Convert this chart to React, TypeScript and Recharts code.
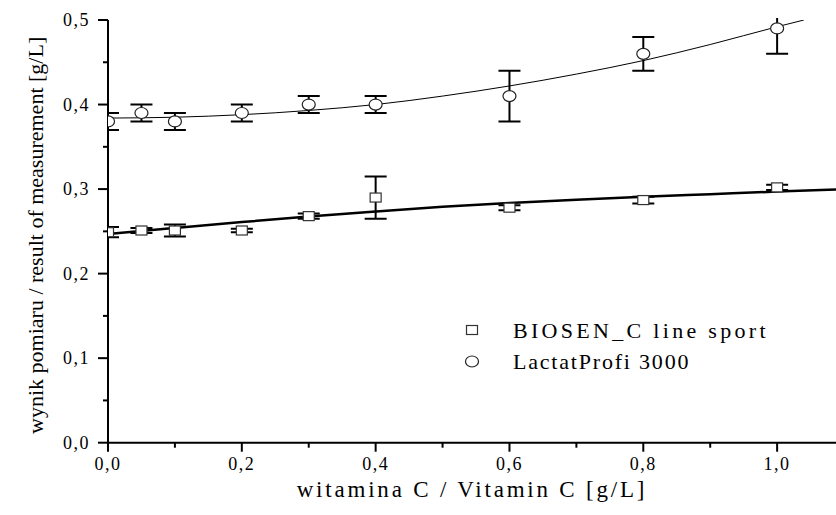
import {
  ComposedChart,
  Scatter,
  Line,
  XAxis,
  YAxis,
  ErrorBar,
  Legend,
} from "recharts";

const doses = [0, 0.05, 0.1, 0.2, 0.3, 0.4, 0.6, 0.8, 1.0];

const biosenValues = [0.249, 0.251, 0.251, 0.251, 0.268, 0.29, 0.278, 0.287, 0.302];
const biosenErrors = [0.006, 0.003, 0.007, 0.002, 0.003, 0.025, 0.003, 0.004, 0.003];

const lactatValues = [0.38, 0.39, 0.38, 0.39, 0.4, 0.4, 0.41, 0.46, 0.49];
const lactatErrors = [0.01, 0.01, 0.01, 0.01, 0.01, 0.01, 0.03, 0.02, 0.03];

// fitted curves
const biosenFitX = [0, 0.1, 0.2, 0.3, 0.4, 0.5, 0.6, 0.7, 0.8, 0.9, 1.0, 1.088];
const biosenFitY = [0.247, 0.254, 0.261, 0.2675, 0.2735, 0.279, 0.2835, 0.2875, 0.291, 0.294, 0.297, 0.2995];

const lactatFitX = [0, 0.1, 0.2, 0.3, 0.4, 0.5, 0.6, 0.7, 0.8, 0.9, 1.0, 1.04];
const lactatFitY = [0.384, 0.385, 0.388, 0.393, 0.4, 0.41, 0.422, 0.436, 0.452, 0.471, 0.492, 0.5];

const xTicks = [0, 0.1, 0.2, 0.3, 0.4, 0.5, 0.6, 0.7, 0.8, 0.9, 1.0];
const yTicks = [0, 0.05, 0.1, 0.15, 0.2, 0.25, 0.3, 0.35, 0.4, 0.45, 0.5];

const legendNames = ["BIOSEN_C line sport", "LactatProfi 3000"];

const FONT = '"Liberation Serif", "Times New Roman", serif';

// layout constants (chart box minus margins and axis sizes)
const PLOT_LEFT = 108;
const PLOT_TOP = 18;

const biosenPoints = doses.map((x, i) => ({ x, y: biosenValues[i], err: biosenErrors[i] }));
const lactatPoints = doses.map((x, i) => ({ x, y: lactatValues[i], err: lactatErrors[i] }));
const biosenFit = biosenFitX.map((x, i) => ({ x, y: biosenFitY[i] }));
const lactatFit = lactatFitX.map((x, i) => ({ x, y: lactatFitY[i] }));

const fmt = (v: number) => v.toFixed(1).replace(".", ",");

const XTick = (props: any) => {
  const { x, y, payload } = props;
  const v = payload.value;
  const major = Math.round(v * 10) % 2 === 0;
  return (
    <g>
      <line x1={x} x2={x} y1={y} y2={y + (major ? 9 : 5)} stroke="#000" strokeWidth={2} />
      {major ? (
        <text
          x={x}
          y={y + 27}
          textAnchor="middle"
          style={{ fontFamily: FONT }}
          fontSize={18}
          letterSpacing={1.5}
          fill="#000"
        >
          {fmt(v)}
        </text>
      ) : null}
    </g>
  );
};

const YTick = (props: any) => {
  const { x, y, payload } = props;
  const v = payload.value;
  const major = Math.round(v * 100) % 10 === 0;
  return (
    <g>
      <line x1={x} x2={x - (major ? 10 : 5)} y1={y} y2={y} stroke="#000" strokeWidth={2} />
      {major ? (
        <text
          x={x - 18}
          y={y}
          textAnchor="end"
          dominantBaseline="central"
          style={{ fontFamily: FONT }}
          fontSize={18}
          letterSpacing={1.5}
          fill="#000"
        >
          {fmt(v)}
        </text>
      ) : null}
    </g>
  );
};

const YTitle = (props: any) => {
  const { viewBox } = props;
  const cx = viewBox.x + 36;
  const cy = viewBox.y + viewBox.height / 2 + 4;
  return (
    <text
      x={cx}
      y={cy}
      transform={`rotate(-90 ${cx} ${cy})`}
      textAnchor="middle"
      dominantBaseline="central"
      style={{ fontFamily: FONT }}
      fontSize={22}
      fill="#000"
    >
      wynik pomiaru / result of measurement [g/L]
    </text>
  );
};

const SquareDot = (props: any) => {
  const { cx, cy } = props;
  return <rect x={cx - 5.5} y={cy - 4.5} width={11} height={9} fill="#fff" stroke="#333" strokeWidth={1.2} />;
};

const CircleDot = (props: any) => {
  const { cx, cy } = props;
  return <ellipse cx={cx} cy={cy} rx={6.5} ry={5.5} fill="#fff" stroke="#222" strokeWidth={1.2} />;
};

const LegendBox = () => (
  <div style={{ fontFamily: FONT, fontSize: 22, color: "#000", lineHeight: "31px" }}>
    <div style={{ display: "flex", alignItems: "center" }}>
      <svg width={52} height={31}>
        <rect x={5.5} y={10.5} width={11} height={9} fill="#fff" stroke="#333" strokeWidth={1.2} />
      </svg>
      <span style={{ letterSpacing: 3.3 }}>{legendNames[0]}</span>
    </div>
    <div style={{ display: "flex", alignItems: "center" }}>
      <svg width={52} height={31}>
        <ellipse cx={11} cy={15.5} rx={6.5} ry={5.5} fill="#fff" stroke="#222" strokeWidth={1.2} />
      </svg>
      <span style={{ letterSpacing: 1.8 }}>{legendNames[1]}</span>
    </div>
  </div>
);

export default function App() {
  return (
    <div style={{ position: "absolute", left: 0, top: 0, background: "#fff" }}>
      <style>{`
        .recharts-scatter, .recharts-errorBar, .recharts-errorBars { clip-path: url(#plot-clip); }
      `}</style>
      <ComposedChart
        width={836}
        height={515}
        margin={{ top: 20, right: 0, bottom: 0, left: 0 }}
      >
        <defs>
          <clipPath id="plot-clip">
            <rect x={PLOT_LEFT} y={PLOT_TOP} width={836 - PLOT_LEFT} height={442.7 - PLOT_TOP} />
          </clipPath>
        </defs>
        <XAxis
          dataKey="x"
          type="number"
          domain={[0, 1.088]}
          allowDataOverflow
          ticks={xTicks}
          tickSize={0}
          tickMargin={0}
          tick={<XTick />}
          interval={0}
          height={72.3}
          axisLine={{ stroke: "#000", strokeWidth: 2 }}
          tickLine={false}
          label={{
            value: "witamina C / Vitamin C [g/L]",
            position: "insideBottom",
            offset: 18,
            style: { fontFamily: FONT, fontSize: 23, letterSpacing: 2.8, fill: "#000" },
          }}
        />
        <YAxis
          dataKey="y"
          type="number"
          domain={[0, 0.5]}
          allowDataOverflow
          ticks={yTicks}
          tickSize={0}
          tickMargin={0}
          tick={<YTick />}
          interval={0}
          width={108}
          axisLine={{ stroke: "#000", strokeWidth: 2 }}
          tickLine={false}
          label={YTitle}
        />
        <Legend
          layout="vertical"
          align="center"
          verticalAlign="middle"
          content={<LegendBox />}
          wrapperStyle={{ position: "absolute", left: 461, top: 315, width: "auto", height: "auto" }}
        />
        <Scatter
          name={legendNames[0]}
          data={biosenPoints}
          shape={<SquareDot />}
          isAnimationActive={false}
        >
          <ErrorBar dataKey="err" direction="y" width={11} stroke="#000" strokeWidth={2} />
        </Scatter>
        <Scatter
          name={legendNames[1]}
          data={lactatPoints}
          shape={<CircleDot />}
          isAnimationActive={false}
        >
          <ErrorBar dataKey="err" direction="y" width={11} stroke="#000" strokeWidth={2} />
        </Scatter>
        <Line
          data={biosenFit}
          dataKey="y"
          type="monotone"
          stroke="#000"
          strokeWidth={2.5}
          dot={false}
          activeDot={false}
          legendType="none"
          isAnimationActive={false}
        />
        <Line
          data={lactatFit}
          dataKey="y"
          type="monotone"
          stroke="#000"
          strokeWidth={1}
          dot={false}
          activeDot={false}
          legendType="none"
          isAnimationActive={false}
        />
      </ComposedChart>
    </div>
  );
}
